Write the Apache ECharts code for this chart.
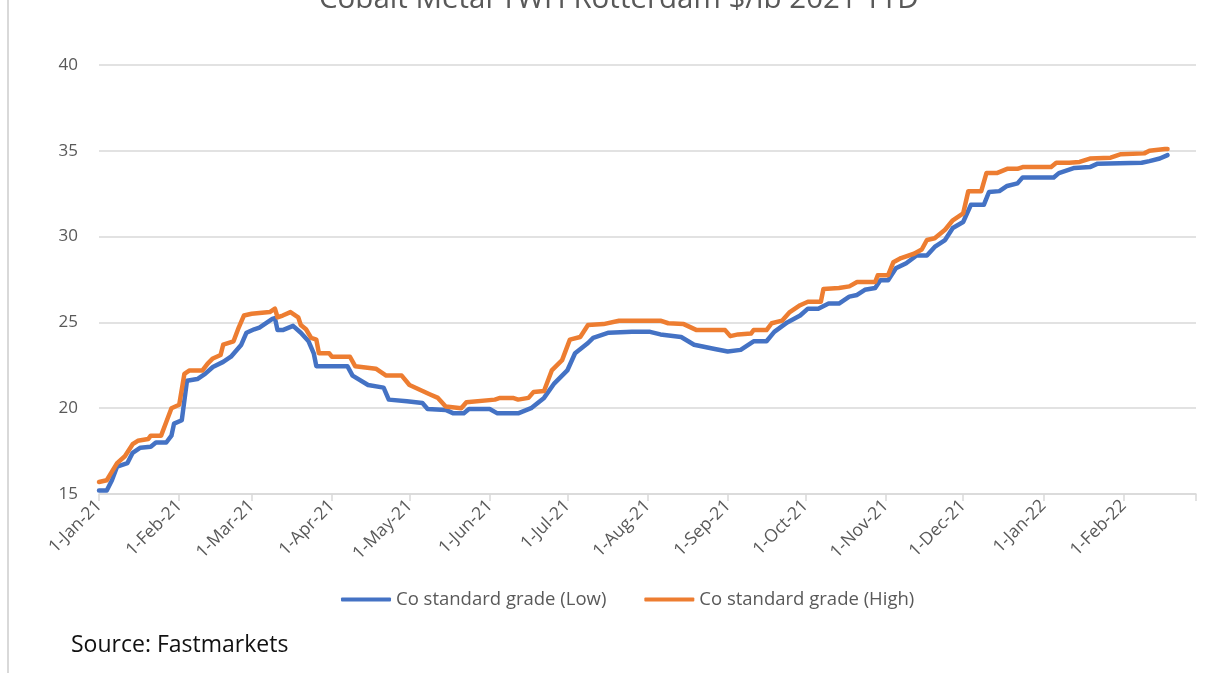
<!DOCTYPE html>
<html>
<head>
<meta charset="utf-8">
<script src="https://cdn.jsdelivr.net/npm/echarts@6/dist/echarts.min.js"></script>
<style>
html,body{margin:0;padding:0;background:#fff;}
#chart{width:1214px;height:673px;}
</style>
</head>
<body>
<div id="chart"></div>
<script>
const titleText = 'Cobalt Metal TWH Rotterdam $/lb 2021 YTD';
const sourceText = 'Source: Fastmarkets';
const seriesNames = ['Co standard grade (Low)', 'Co standard grade (High)'];

const monthTicks = ['2021-01-01','2021-02-01','2021-03-01','2021-04-01','2021-05-01','2021-06-01','2021-07-01','2021-08-01','2021-09-01','2021-10-01','2021-11-01','2021-12-01','2022-01-01','2022-02-01','2022-03-01'];
const tickLabels = ['1-Jan-21','1-Feb-21','1-Mar-21','1-Apr-21','1-May-21','1-Jun-21','1-Jul-21','1-Aug-21','1-Sep-21','1-Oct-21','1-Nov-21','1-Dec-21','1-Jan-22','1-Feb-22'];
const yMin = 15, yMax = 40, yStep = 5;

const lowDates = ['2021-01-01','2021-01-04','2021-01-06','2021-01-08','2021-01-12','2021-01-14','2021-01-17','2021-01-21','2021-01-23','2021-01-27','2021-01-29','2021-01-30','2021-02-02','2021-02-04','2021-02-08','2021-02-11','2021-02-14','2021-02-18','2021-02-21','2021-02-25','2021-02-27','2021-03-02','2021-03-04','2021-03-09','2021-03-10','2021-03-11','2021-03-13','2021-03-17','2021-03-20','2021-03-23','2021-03-25','2021-03-26','2021-04-07','2021-04-09','2021-04-15','2021-04-21','2021-04-23','2021-04-30','2021-05-06','2021-05-08','2021-05-15','2021-05-18','2021-05-22','2021-05-24','2021-06-01','2021-06-04','2021-06-12','2021-06-17','2021-06-22','2021-06-26','2021-07-01','2021-07-04','2021-07-09','2021-07-11','2021-07-17','2021-07-26','2021-08-02','2021-08-06','2021-08-14','2021-08-19','2021-08-27','2021-09-01','2021-09-06','2021-09-11','2021-09-16','2021-09-19','2021-09-24','2021-09-29','2021-10-02','2021-10-06','2021-10-10','2021-10-14','2021-10-18','2021-10-21','2021-10-24','2021-10-28','2021-10-30','2021-11-02','2021-11-05','2021-11-09','2021-11-13','2021-11-17','2021-11-20','2021-11-24','2021-11-27','2021-12-01','2021-12-04','2021-12-09','2021-12-11','2021-12-15','2021-12-18','2021-12-22','2021-12-24','2022-01-05','2022-01-07','2022-01-13','2022-01-19','2022-01-22','2022-02-08','2022-02-11','2022-02-15','2022-02-18'];
const lowValues = [15.2,15.2,15.8,16.6,16.8,17.4,17.7,17.75,18.0,18.0,18.4,19.1,19.3,21.6,21.7,22.0,22.4,22.7,23.0,23.7,24.4,24.6,24.7,25.2,25.25,24.55,24.55,24.8,24.4,23.9,23.2,22.45,22.45,21.9,21.35,21.2,20.5,20.4,20.3,19.95,19.9,19.7,19.7,19.95,19.95,19.7,19.7,20.0,20.6,21.45,22.2,23.2,23.8,24.1,24.4,24.45,24.45,24.3,24.15,23.7,23.45,23.3,23.4,23.9,23.9,24.45,25.0,25.4,25.8,25.8,26.1,26.1,26.5,26.6,26.9,27.0,27.45,27.45,28.15,28.45,28.9,28.9,29.4,29.8,30.5,30.85,31.85,31.85,32.6,32.65,32.95,33.1,33.45,33.45,33.7,34.0,34.05,34.25,34.3,34.4,34.55,34.75];

const highDates = ['2021-01-01','2021-01-04','2021-01-06','2021-01-08','2021-01-11','2021-01-14','2021-01-16','2021-01-20','2021-01-21','2021-01-25','2021-01-27','2021-01-29','2021-02-01','2021-02-03','2021-02-05','2021-02-10','2021-02-12','2021-02-14','2021-02-17','2021-02-18','2021-02-22','2021-02-24','2021-02-26','2021-03-01','2021-03-08','2021-03-10','2021-03-11','2021-03-13','2021-03-16','2021-03-19','2021-03-20','2021-03-22','2021-03-24','2021-03-26','2021-03-27','2021-03-31','2021-04-01','2021-04-08','2021-04-10','2021-04-18','2021-04-22','2021-04-28','2021-05-01','2021-05-09','2021-05-12','2021-05-15','2021-05-21','2021-05-23','2021-06-03','2021-06-05','2021-06-10','2021-06-12','2021-06-16','2021-06-18','2021-06-22','2021-06-25','2021-06-29','2021-07-02','2021-07-06','2021-07-09','2021-07-15','2021-07-21','2021-08-06','2021-08-09','2021-08-15','2021-08-20','2021-08-31','2021-09-02','2021-09-05','2021-09-10','2021-09-11','2021-09-16','2021-09-18','2021-09-22','2021-09-25','2021-09-29','2021-10-02','2021-10-07','2021-10-08','2021-10-14','2021-10-18','2021-10-21','2021-10-28','2021-10-29','2021-11-02','2021-11-04','2021-11-07','2021-11-12','2021-11-15','2021-11-17','2021-11-20','2021-11-24','2021-11-27','2021-12-01','2021-12-03','2021-12-08','2021-12-10','2021-12-14','2021-12-18','2021-12-22','2021-12-24','2022-01-04','2022-01-06','2022-01-11','2022-01-15','2022-01-19','2022-01-27','2022-01-31','2022-02-09','2022-02-11','2022-02-17','2022-02-18'];
const highValues = [15.7,15.8,16.3,16.8,17.2,17.9,18.1,18.2,18.4,18.4,19.2,20.0,20.2,22.0,22.2,22.2,22.6,22.9,23.1,23.7,23.9,24.7,25.4,25.5,25.6,25.8,25.3,25.4,25.6,25.3,24.85,24.6,24.1,24.0,23.2,23.2,23.0,23.0,22.45,22.3,21.9,21.9,21.35,20.8,20.6,20.1,20.0,20.35,20.5,20.6,20.6,20.5,20.6,20.95,21.0,22.2,22.8,24.0,24.15,24.85,24.9,25.1,25.1,24.95,24.9,24.55,24.55,24.2,24.3,24.35,24.55,24.55,24.95,25.1,25.6,26.0,26.2,26.2,26.95,27.0,27.1,27.35,27.35,27.75,27.75,28.5,28.75,29.0,29.25,29.8,29.9,30.4,30.95,31.35,32.65,32.65,33.7,33.7,33.95,33.95,34.05,34.05,34.3,34.3,34.35,34.55,34.6,34.8,34.85,35.0,35.1,35.1];

// dates -> day number (UTC based, exact calendar spacing)
function dayNum(s) {
  const p = s.split('-');
  return Math.round(Date.UTC(+p[0], +p[1] - 1, +p[2]) / 86400000);
}
const tickDays = monthTicks.map(dayNum);
const labelDays = tickDays.slice(0, tickLabels.length);
const labelMap = {};
labelDays.forEach((t, i) => { labelMap[t] = tickLabels[i]; });

const lowData = lowDates.map((d, i) => [dayNum(d), lowValues[i]]);
const highData = highDates.map((d, i) => [dayNum(d), highValues[i]]);

const FONT = 'Open Sans';
const GRAY = '#595959';
const GRID = '#d9d9d9';

const chart = echarts.init(document.getElementById('chart'), null, {renderer: 'canvas'});
chart.setOption({
  animation: false,
  backgroundColor: '#ffffff',
  title: [
    {
      text: titleText, left: 314, top: -20,
      textStyle: {fontFamily: FONT, fontSize: 29.5, fontWeight: 'normal', color: GRAY}
    },
    {
      text: sourceText, left: 66, top: 629,
      textStyle: {fontFamily: FONT, fontSize: 23, fontWeight: 'normal', color: '#111111'}
    }
  ],
  legend: {
    left: 336, top: 585,
    itemWidth: 50, itemHeight: 4, itemGap: 38,
    icon: 'roundRect',
    textStyle: {fontFamily: FONT, fontSize: 18.5, color: GRAY},
    data: seriesNames
  },
  grid: {left: 99, right: 18, top: 65, bottom: 179},
  xAxis: {
    type: 'value',
    min: tickDays[0],
    max: tickDays[tickDays.length - 1],
    axisLine: {show: true, onZero: false, lineStyle: {color: GRID, width: 1.5}},
    axisTick: {show: true, length: 7, lineStyle: {color: GRID, width: 1.5}, customValues: tickDays},
    axisLabel: {
      customValues: labelDays,
      rotate: 45, margin: 9,
      fontFamily: FONT, fontSize: 17.5, color: GRAY,
      formatter: function (v) { return labelMap[v] || ''; }
    },
    splitLine: {show: false},
    minorTick: {show: false}
  },
  yAxis: {
    type: 'value',
    min: yMin, max: yMax, interval: yStep,
    axisLine: {show: false},
    axisTick: {show: false},
    axisLabel: {fontFamily: FONT, fontSize: 17, color: GRAY, margin: 21},
    splitLine: {show: true, lineStyle: {color: GRID, width: 1.5}}
  },
  series: [
    {
      name: seriesNames[0], type: 'line', data: lowData,
      showSymbol: false, symbol: 'none', color: '#4472C4',
      lineStyle: {width: 4.5, color: '#4472C4', cap: 'round', join: 'round'}
    },
    {
      name: seriesNames[1], type: 'line', data: highData,
      showSymbol: false, symbol: 'none', color: '#ED7D31',
      lineStyle: {width: 4.5, color: '#ED7D31', cap: 'round', join: 'round'}
    }
  ],
  graphic: [
    {type: 'line', shape: {x1: 8, y1: 0, x2: 8, y2: 673}, style: {stroke: GRID, lineWidth: 2}, silent: true}
  ]
});
</script>
</body>
</html>
